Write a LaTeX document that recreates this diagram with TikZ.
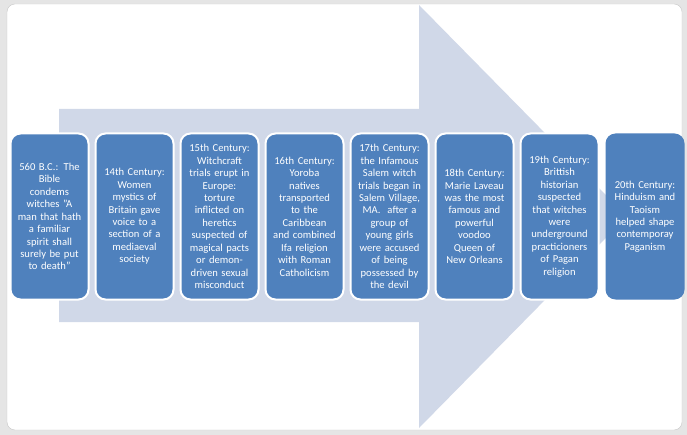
\documentclass[tikz,border=0pt]{standalone}
\usepackage{fontspec}
\setmainfont{Carlito}
\usetikzlibrary{positioning}
\definecolor{eventblue}{HTML}{4F81BD}
\definecolor{arrowgrey}{HTML}{D0D8E8}
\tikzset{
  event/.style={rectangle, rounded corners=10pt, fill=eventblue, draw=white,
    line width=2pt, minimum width=78pt, minimum height=166pt, text width=76pt,
    inner sep=0pt, align=center, text=white, font=\fontsize{10.6}{12.45}\selectfont}
}
\begin{document}
\begin{tikzpicture}[x=1pt,y=-1pt,node distance=5pt]
      \useasboundingbox (0,0) rectangle (687,435);

      % Frame
      \fill [black!10] (0,0) rectangle (687,435);
      \draw [black!22,fill=white,rounded corners=8pt] (7,4) rectangle (682,430);

      % Arrow
      \fill [arrowgrey] (59,109) -- (419,109) -- (419,5) -- (627,216.5)
      -- (419,428) -- (419,322) -- (59,322) -- cycle;

      % Events
      \node [event] (c1) at (49.5,216.5) {560 B.C.: The\\Bible\\condems\\witches "A\\man that hath\\a familiar\\spirit shall\\surely be put\\to death"};
      \node [event,right=of c1] (c2) {14th Century:\\Women\\mystics of\\Britain gave\\voice to a\\section of a\\mediaeval\\society};
      \node [event,right=of c2] (c3) {15th Century:\\Witchcraft\\trials erupt in\\Europe:\\torture\\inflicted on\\heretics\\suspected of\\magical pacts\\or demon-\\driven sexual\\misconduct};
      \node [event,right=of c3] (c4) {16th Century:\\Yoroba\\natives\\transported\\to the\\Caribbean\\and combined\\Ifa religion\\with Roman\\Catholicism};
      \node [event,right=of c4] (c5) {17th Century:\\the Infamous\\Salem witch\\trials began in\\Salem Village,\\MA.\ \ after a\\group of\\young girls\\were accused\\of being\\possessed by\\the devil};
      \node [event,right=of c5] (c6) {18th Century:\\Marie Laveau\\was the most\\famous and\\powerful\\voodoo\\Queen of\\New Orleans};
      \node [event,right=of c6] (c7) {19th Century:\\Brittish\\historian\\suspected\\that witches\\were\\underground\\practicioners\\of Pagan\\religion};
      \node [event,draw=none,minimum width=79pt,right=of c7] (c8) {20th Century:\\Hinduism and\\Taoism\\helped shape\\contemporay\\Paganism};
\end{tikzpicture}
\end{document}
